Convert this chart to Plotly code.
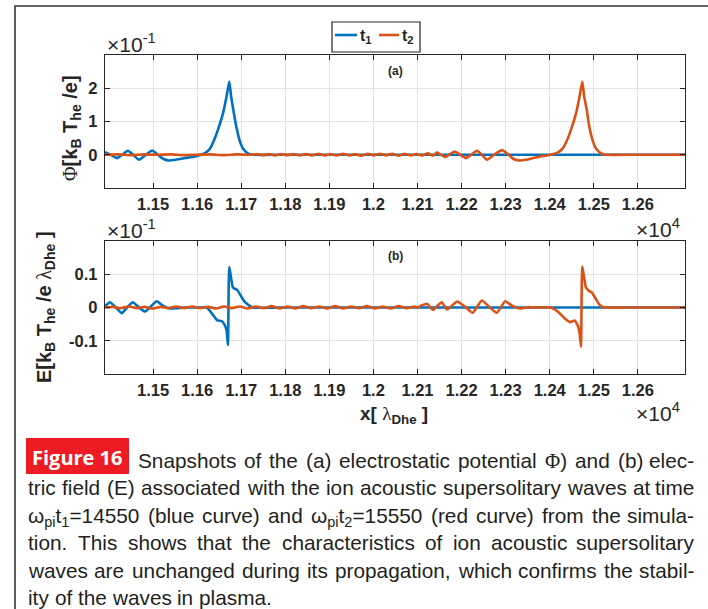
import plotly.graph_objects as go

W, H = 708, 609

# ---------------- data ----------------
# x in units of lambda_Dhe ; Phi and E in the axis units (x 1e-1)
x_phi_t1 = [11391, 11404, 11418, 11430, 11443, 11455, 11468, 11482, 11498, 11511,
            11523, 11534, 11552, 11573, 11595, 11607, 11618, 11629, 11641, 11650,
            11659, 11667, 11673, 11677, 11682, 11688, 11696, 11705, 11716, 11727,
            11800, 11900, 12000, 12100, 12200, 12300, 12400, 12500, 12600, 12707]
phi_t1 = [0.08, 0.0, -0.10, 0.0, 0.12, 0.0, -0.15, -0.02, 0.13, 0.0,
          -0.12, -0.17, -0.15, -0.10, -0.05, -0.01, 0.05, 0.18, 0.52, 0.86,
          1.26, 1.77, 2.20, 1.77, 1.36, 0.91, 0.45, 0.17, 0.03, 0.0,
          0.0, 0.0, 0.0, 0.0, 0.0, 0.0, 0.0, 0.0, 0.0, 0.0]

x_phi_t2 = [11391, 11420, 11450, 11480, 11510, 11540, 11570, 11600, 11630, 11660,
            11690, 11720, 11735, 11749, 11763, 11777, 11791, 11805, 11819, 11833,
            11847, 11861, 11875, 11889, 11903, 11917, 11931, 11945, 11959, 11973,
            11987, 12001, 12015, 12029, 12043, 12057, 12071, 12085, 12097, 12110,
            12124, 12135, 12144, 12153, 12163, 12174, 12185, 12197, 12210, 12222,
            12235, 12246, 12258, 12274, 12292, 12305, 12317, 12330, 12346, 12362,
            12378, 12394, 12408, 12419, 12430, 12442, 12451, 12460, 12468, 12474,
            12478, 12484, 12489, 12497, 12506, 12518, 12528, 12600, 12707]
phi_t2 = [0.0, 0.01, -0.01, 0.01, 0.0, 0.01, -0.01, 0.0, 0.01, -0.01,
          0.01, 0.0, 0.02, -0.01, 0.02, -0.02, 0.02, -0.01, 0.02, -0.02,
          0.02, -0.02, 0.03, -0.02, 0.02, -0.02, 0.03, -0.02, 0.02, -0.03,
          0.03, -0.02, 0.03, -0.02, 0.03, -0.03, 0.03, -0.02, 0.02, -0.02,
          0.04, -0.03, 0.07, 0.0, -0.07, 0.02, 0.10, 0.0, -0.10, 0.0,
          0.12, 0.0, -0.15, 0.0, 0.14, 0.02, -0.12, -0.17, -0.15, -0.10,
          -0.05, -0.02, 0.02, 0.07, 0.20, 0.52, 0.86, 1.26, 1.77, 2.20,
          1.77, 1.36, 0.91, 0.45, 0.17, 0.03, 0.0, 0.0, 0.0]

x_E_t1 = [11391, 11402, 11416, 11429, 11441, 11454, 11468, 11482, 11495, 11508,
          11523, 11538, 11554, 11573, 11607, 11622, 11629, 11637, 11646, 11656,
          11663, 11667, 11670, 11673, 11681, 11686, 11691, 11701, 11709, 11716,
          11727, 11800, 11900, 12000, 12100, 12200, 12300, 12400, 12500, 12600, 12707]
E_t1 = [0.003, 0.016, 0.0, -0.017, 0.0, 0.016, 0.0, -0.012, 0.003, 0.019,
        0.005, -0.003, -0.002, 0.0, 0.0, 0.0, -0.010, -0.024, -0.039, -0.041,
        -0.054, -0.070, -0.113, 0.122, 0.061, 0.056, 0.053, 0.031, 0.016, 0.008,
        0.0, 0.0, 0.0, 0.0, 0.0, 0.0, 0.0, 0.0, 0.0, 0.0, 0.0]

x_E_t2 = [11391, 11409, 11427, 11445, 11463, 11481, 11499, 11517, 11535, 11553,
          11571, 11589, 11607, 11625, 11643, 11661, 11679, 11697, 11715, 11733,
          11751, 11769, 11787, 11805, 11823, 11841, 11859, 11877, 11895, 11913,
          11931, 11949, 11967, 11985, 12003, 12021, 12039, 12057, 12075, 12093,
          12099, 12106, 12122, 12135, 12155, 12167, 12190, 12210, 12225, 12246,
          12262, 12280, 12299, 12314, 12333, 12351, 12362, 12401, 12410, 12420,
          12435, 12446, 12457, 12462, 12465, 12468, 12471, 12474, 12482, 12489,
          12495, 12507, 12512, 12518, 12528, 12600, 12707]
E_t2 = [0.0, 0.002, -0.002, 0.003, -0.002, 0.002, -0.003, 0.002, -0.002, 0.003,
        -0.002, 0.003, -0.002, 0.002, -0.003, 0.003, -0.002, 0.003, -0.003, 0.003,
        -0.002, 0.004, -0.003, 0.003, -0.003, 0.004, -0.002, 0.003, -0.003, 0.004,
        -0.003, 0.003, -0.002, 0.004, -0.003, 0.003, -0.003, 0.004, -0.002, 0.003,
        0.0, 0.004, 0.011, -0.007, 0.016, -0.006, 0.018, 0.0, -0.016, 0.021,
        0.003, -0.016, 0.019, 0.006, -0.003, 0.001, 0.0, 0.0, -0.005, -0.014,
        -0.034, -0.044, -0.039, -0.050, -0.059, -0.080, -0.118, 0.123, 0.061, 0.050,
        0.046, 0.021, 0.010, 0.003, 0.0, 0.0, 0.0]

x_tick_vals = [1.15, 1.16, 1.17, 1.18, 1.19, 1.20, 1.21, 1.22, 1.23, 1.24, 1.25, 1.26]
x_tick_text = ["1.15", "1.16", "1.17", "1.18", "1.19", "1.2", "1.21", "1.22",
               "1.23", "1.24", "1.25", "1.26"]
phi_tick_vals = [0, 1, 2]
phi_tick_text = ["0", "1", "2"]
E_tick_vals = [-0.1, 0, 0.1]
E_tick_text = ["-0.1", "0", "0.1"]
series_names = ["t<sub>1</sub>", "t<sub>2</sub>"]
x_range = [11391, 12707]
phi_range = [-1, 3]
E_range = [-0.2, 0.2]

# ---------------- styling helpers ----------------
C1, C2 = "#0072BD", "#D95319"
AX = "#262626"
GRID = "#e2e2e2"
FONT = "Liberation Sans"


def fx(p):
    return p / W


def fy(p):
    return 1 - p / H


fig = go.Figure()
line_kw = dict(shape="spline", smoothing=0.5, width=2.6)
fig.add_trace(go.Scatter(x=[v / 1e4 for v in x_phi_t1], y=phi_t1, mode="lines",
                         line=dict(color=C1, **line_kw), name=series_names[0],
                         xaxis="x", yaxis="y", showlegend=False))
fig.add_trace(go.Scatter(x=[v / 1e4 for v in x_phi_t2], y=phi_t2, mode="lines",
                         line=dict(color=C2, **line_kw), name=series_names[1],
                         xaxis="x", yaxis="y", showlegend=False))
fig.add_trace(go.Scatter(x=[v / 1e4 for v in x_E_t1], y=E_t1, mode="lines",
                         line=dict(color=C1, **line_kw), name=series_names[0],
                         xaxis="x2", yaxis="y2", showlegend=False))
fig.add_trace(go.Scatter(x=[v / 1e4 for v in x_E_t2], y=E_t2, mode="lines",
                         line=dict(color=C2, **line_kw), name=series_names[1],
                         xaxis="x2", yaxis="y2", showlegend=False))

tickfont = dict(family=FONT, size=16.5, color=AX, weight="bold")
common = dict(showline=True, linecolor=AX, linewidth=1.3, mirror="ticks",
              ticks="inside", ticklen=5, tickwidth=1, tickcolor=AX,
              showgrid=True, gridcolor=GRID, gridwidth=1, zeroline=False,
              tickfont=tickfont)
xr = [x_range[0] / 1e4, x_range[1] / 1e4]

fig.update_layout(
    width=W, height=H, margin=dict(l=0, r=0, t=0, b=0),
    paper_bgcolor="white", plot_bgcolor="white",
    font=dict(family=FONT, color=AX),
    xaxis=dict(domain=[fx(105), fx(685)], range=xr, anchor="y",
               tickvals=x_tick_vals, ticktext=x_tick_text, ticklabelstandoff=1, **common),
    yaxis=dict(domain=[fy(188), fy(55)], range=phi_range, anchor="x",
               tickvals=phi_tick_vals, ticktext=phi_tick_text, ticklabelstandoff=3, **common),
    xaxis2=dict(domain=[fx(105), fx(685)], range=xr, anchor="y2",
                tickvals=x_tick_vals, ticktext=x_tick_text, ticklabelstandoff=1, **common),
    yaxis2=dict(domain=[fy(374), fy(241)], range=E_range, anchor="x2",
                tickvals=E_tick_vals, ticktext=E_tick_text, ticklabelstandoff=3, **common),
)

shapes = []
annotations = []

# outer frame (right/bottom edges lie outside the picture)
shapes.append(dict(type="rect", xref="paper", yref="paper", x0=fx(15), y0=fy(660),
                   x1=fx(760), y1=fy(6), line=dict(color="#333333", width=1.6),
                   fillcolor="rgba(0,0,0,0)", layer="below"))

# legend box
shapes.append(dict(type="rect", xref="paper", yref="paper", x0=fx(332), x1=fx(420),
                   y0=fy(52), y1=fy(22), line=dict(color=AX, width=1.2), fillcolor="white"))
shapes.append(dict(type="line", xref="paper", yref="paper", x0=fx(335), x1=fx(357),
                   y0=fy(35), y1=fy(35), line=dict(color=C1, width=2.6)))
shapes.append(dict(type="line", xref="paper", yref="paper", x0=fx(379), x1=fx(399),
                   y0=fy(35), y1=fy(35), line=dict(color=C2, width=2.6)))
for name, xl in zip(series_names, [359, 401]):
    annotations.append(dict(text=name, x=fx(xl), y=fy(26), xref="paper", yref="paper",
                            xanchor="left", yanchor="top", showarrow=False, borderpad=0,
                            font=dict(family=FONT, size=16, color=AX, weight="bold")))


def ann(text, x, y, size, xa="center", ya="middle", angle=0, weight="normal", color=AX,
        family=FONT):
    annotations.append(dict(text=text, x=fx(x), y=fy(y), xref="paper", yref="paper",
                            xanchor=xa, yanchor=ya, showarrow=False, textangle=angle,
                            borderpad=0,
                            font=dict(family=family, size=size, color=color, weight=weight)))


SERIF = "<span style=\"font-family:'Liberation Serif';font-weight:normal\">%s</span>"

# axis titles
ann(SERIF % "Φ" + "[k<sub>B</sub> T<sub>he</sub> /e]", 72, 128, 20, angle=-90, weight="bold")
ann("E[k<sub>B</sub> T<sub>he</sub> /e " + SERIF % "λ" + "<sub>Dhe</sub> ]", 45, 307, 20,
    angle=-90, weight="bold")
ann("x[ " + SERIF % "λ" + "<sub>Dhe</sub> ]", 394, 415, 19, weight="bold")

# exponent labels
ann("×10<sup>-1</sup>", 106, 57, 21, xa="left", ya="bottom")
ann("×10<sup>-1</sup>", 106, 243, 21, xa="left", ya="bottom")
ann("×10<sup>4</sup>", 635, 242, 21, xa="left", ya="bottom")
ann("×10<sup>4</sup>", 635, 426, 21, xa="left", ya="bottom")

# panel tags
ann("(a)", 395, 71, 12, weight="bold")
ann("(b)", 395, 256, 12, weight="bold")

# ---------------- caption ----------------
shapes.append(dict(type="rect", xref="paper", yref="paper", x0=fx(26), x1=fx(129),
                   y0=fy(474), y1=fy(438), line=dict(width=0), fillcolor="#ED1C24"))
ann("Figure 16", 77.8, 457.5, 20, weight="bold", color="white", family="Open Sans")

AW = {' ': 278, '(': 333, ')': 333, ',': 278, '-': 333, '.': 278, '=': 584, '/': 278,
      'Φ': 760, 'ω': 780, 'E': 667, 'S': 667, 'T': 611}
for d in "0123456789":
    AW[d] = 556
for ch, w in zip("abcdefghijklmnopqrstuvwxyz",
                 [556, 556, 500, 556, 556, 278, 556, 556, 222, 222, 500, 222, 833,
                  556, 556, 556, 556, 333, 500, 278, 556, 500, 722, 500, 500, 500]):
    AW[ch] = w


def tw(s, size):
    total, scale, i = 0.0, 1.0, 0
    while i < len(s):
        if s.startswith("<sub>", i):
            scale = 0.7
            i += 5
            continue
        if s.startswith("</sub>", i):
            scale = 1.0
            i += 6
            continue
        total += AW.get(s[i], 556) * scale
        i += 1
    return total * size / 1000.0


cap_lines = [
    "Snapshots of the (a) electrostatic potential Φ) and (b) elec-",
    "tric field (E) associated with the ion acoustic supersolitary waves at time",
    "ω<sub>pi</sub>t<sub>1</sub>=14550 (blue curve) and ω<sub>pi</sub>t<sub>2</sub>=15550 (red curve) from the simula-",
    "tion. This shows that the characteristics of ion acoustic supersolitary",
    "waves are unchanged during its propagation, which confirms the stabil-",
    "ity of the waves in plasma.",
]
CF = 20.8
line_start = [137, 27, 27, 27, 27, 27]
line_end = 695
for i, line in enumerate(cap_lines):
    words = line.split(" ")
    widths = [tw(w, CF) for w in words]
    cy = 459 + 27.55 * i
    top = cy - 0.547 * CF
    last = (i == len(cap_lines) - 1)
    if last:
        gap = tw(" ", CF)
    else:
        gap = (line_end - line_start[i] - sum(widths)) / (len(words) - 1)
    xcur = line_start[i]
    for j, wd in enumerate(words):
        if wd == "Φ)":
            wd = SERIF % "Φ" + ")"
        if j == len(words) - 1 and not last:
            ann(wd, line_end, top, CF, xa="right", ya="top", color="#231f20")
        else:
            ann(wd, xcur, top, CF, xa="left", ya="top", color="#231f20")
        xcur += widths[j] + gap

fig.update_layout(shapes=shapes, annotations=annotations)
fig.write_html("out.html")
